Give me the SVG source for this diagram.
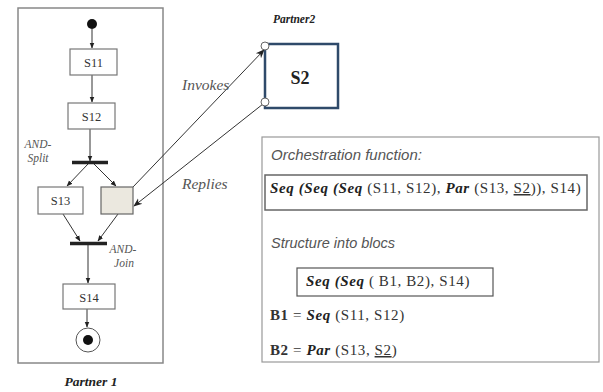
<svg xmlns="http://www.w3.org/2000/svg" width="603" height="392" viewBox="0 0 603 392">
<style>
.box{fill:#fff;stroke:#777;stroke-width:1.2}
.lane{fill:none;stroke:#888;stroke-width:1.5}
.ln{fill:none;stroke:#333;stroke-width:1}
.lbl{font-family:"Liberation Serif",serif;font-size:12.5px;fill:#333}
.it{font-family:"Liberation Serif",serif;font-style:italic;fill:#555}
.bi{font-family:"Liberation Serif",serif;font-style:italic;font-weight:bold;fill:#222}
.t{font-family:"Liberation Serif",serif;font-size:15px;letter-spacing:0.6px;fill:#333}
.sit{font-family:"Liberation Sans",sans-serif;font-style:italic;fill:#555}
.bar{stroke:#222;stroke-width:3.5}
</style>
<defs>
<marker id="ah" viewBox="0 0 10 10" refX="9" refY="5" markerWidth="6" markerHeight="6" orient="auto">
<path d="M0,1 L10,5 L0,9 z" fill="#222"/>
</marker>
<marker id="ah2" viewBox="0 0 10 10" refX="9" refY="5" markerWidth="9" markerHeight="9" orient="auto">
<path d="M0,1 L10,5 L0,9 L3,5 z" fill="#222"/>
</marker>
</defs>
<g id="partner1">
<rect class="lane" x="18" y="8" width="145" height="355"/>
<text class="bi" x="91" y="386" text-anchor="middle" font-size="13.5">Partner 1</text>
</g>
<g id="connectors">
<line class="ln" x1="92" y1="29" x2="92" y2="48" marker-end="url(#ah)"/>
<line class="ln" x1="92" y1="75" x2="92" y2="102" marker-end="url(#ah)"/>
<line class="ln" x1="90" y1="129" x2="90" y2="161" marker-end="url(#ah)"/>
<line class="ln" x1="88" y1="164" x2="67" y2="186" marker-end="url(#ah)"/>
<line class="ln" x1="94" y1="164" x2="116" y2="186" marker-end="url(#ah)"/>
<line class="ln" x1="63" y1="214" x2="80" y2="241" marker-end="url(#ah)"/>
<line class="ln" x1="118" y1="214" x2="98" y2="241" marker-end="url(#ah)"/>
<line class="ln" x1="88" y1="245" x2="88" y2="283" marker-end="url(#ah)"/>
<line class="ln" x1="87" y1="309" x2="87" y2="327" marker-end="url(#ah)"/>
<line class="ln" x1="133" y1="187" x2="264" y2="50" marker-end="url(#ah2)"/>
<line class="ln" x1="263" y1="104" x2="134" y2="206" marker-end="url(#ah2)"/>
<text class="it" x="182" y="90" font-size="15.5">Invokes</text>
<text class="it" x="182" y="189" font-size="15.5">Replies</text>
</g>
<g id="start"><circle cx="92" cy="24" r="5" fill="#111"/></g>
<g id="S11"><rect class="box" x="70" y="49" width="47" height="26"/><text class="lbl" x="93.5" y="66.5" text-anchor="middle">S11</text></g>
<g id="S12"><rect class="box" x="68" y="103" width="47" height="26"/><text class="lbl" x="91.5" y="120.5" text-anchor="middle">S12</text></g>
<g id="and-split"><line class="bar" x1="72" y1="162.5" x2="108" y2="162.5"/>
<text class="it" x="38" y="148" text-anchor="middle" font-size="11.5">AND-</text><text class="it" x="38" y="162" text-anchor="middle" font-size="11.5">Split</text></g>
<g id="S13"><rect class="box" x="38" y="187" width="45" height="27"/><text class="lbl" x="60.5" y="205" text-anchor="middle">S13</text></g>
<g id="S2proxy"><rect x="101" y="187" width="32" height="27" fill="#ebe8df" stroke="#666" stroke-width="1.2"/></g>
<g id="and-join"><line class="bar" x1="70" y1="243.5" x2="107" y2="243.5"/>
<text class="it" x="123" y="253" text-anchor="middle" font-size="11.5">AND-</text><text class="it" x="124" y="267" text-anchor="middle" font-size="11.5">Join</text></g>
<g id="S14"><rect class="box" x="63" y="284" width="52" height="25"/><text class="lbl" x="89" y="301.5" text-anchor="middle">S14</text></g>
<g id="end"><circle cx="88" cy="340" r="12" fill="#fff" stroke="#555" stroke-width="1"/><circle cx="88" cy="340" r="5" fill="#111"/></g>
<g id="partner2">
<text class="bi" x="273" y="23" font-size="11.5">Partner2</text>
<rect x="265" y="44" width="73" height="64" fill="#fff" stroke="#2f4a6a" stroke-width="2.5"/>
<text x="300" y="84" text-anchor="middle" font-family="Liberation Serif, serif" font-weight="bold" font-size="18" fill="#222">S2</text>
<circle cx="265" cy="46" r="4" fill="#fff" stroke="#666" stroke-width="1"/>
<circle cx="265" cy="102" r="4" fill="#fff" stroke="#666" stroke-width="1"/>
</g>
<g id="orchestration">
<rect x="262" y="137" width="337" height="225" fill="#fff" stroke="#999" stroke-width="1.2"/>
<text class="sit" x="271" y="160" font-size="15">Orchestration function:</text>
<rect x="265" y="175" width="322" height="35" fill="#fff" stroke="#666" stroke-width="1.5"/>
<text x="270" y="193" class="t"><tspan class="bi">Seq (Seq (Seq</tspan> (S11, S12), <tspan class="bi">Par</tspan> (S13, <tspan text-decoration="underline">S2</tspan>)), S14)</text>
<text class="sit" x="271" y="248" font-size="14.5">Structure into blocs</text>
<rect x="297" y="268" width="196" height="28" fill="#fff" stroke="#555" stroke-width="1.2"/>
<text x="306" y="286" class="t"><tspan class="bi">Seq (Seq</tspan> ( B1, B2), S14)</text>
<text x="270" y="320" class="t"><tspan font-weight="bold">B1</tspan> = <tspan class="bi">Seq</tspan> (S11, S12)</text>
<text x="270" y="355" class="t"><tspan font-weight="bold">B2</tspan> = <tspan class="bi">Par</tspan> (S13, <tspan text-decoration="underline">S2</tspan>)</text>
</g>
</svg>
